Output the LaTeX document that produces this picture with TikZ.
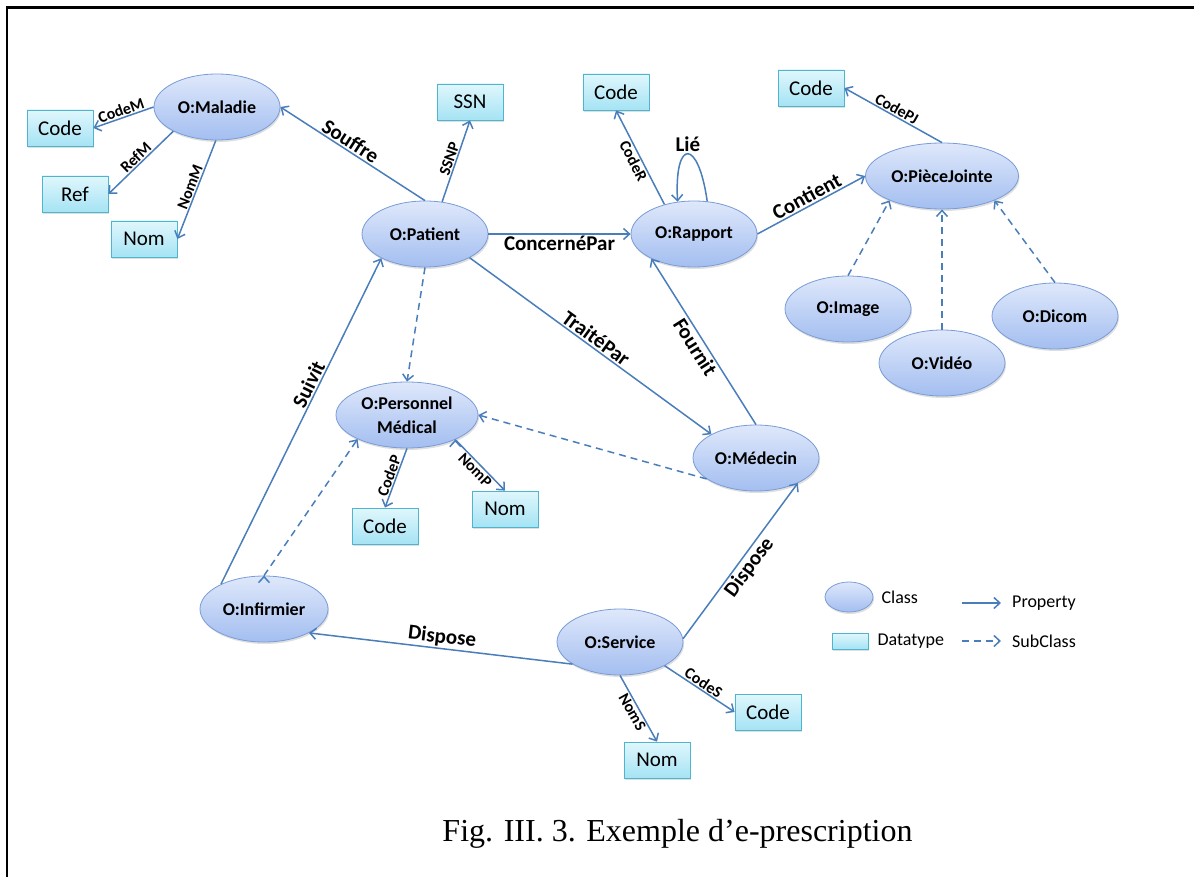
\documentclass[tikz,border=0pt]{standalone}
\usepackage{fontspec}
\setmainfont{Carlito}
\newfontfamily\timesfont{Liberation Serif}
\usetikzlibrary{arrows.meta,shadows,shapes.geometric,positioning}

\definecolor{trait}{HTML}{4A7EBB}
\definecolor{classeHaut}{HTML}{DFE8FB}
\definecolor{classeBas}{HTML}{A3BEF0}
\definecolor{classeBord}{HTML}{7A9CD6}
\definecolor{donneeHaut}{HTML}{E0F7FC}
\definecolor{donneeBas}{HTML}{A5E3F4}
\definecolor{donneeBord}{HTML}{4FB5CF}

\tikzset{
	classe/.style={ellipse, draw=classeBord, line width=0.8pt,
		top color=classeHaut, bottom color=classeBas,
		minimum width=126pt, minimum height=66pt, inner sep=0pt, align=center,
		font=\fontsize{18}{24}\selectfont\bfseries,
		drop shadow={shadow xshift=1pt, shadow yshift=-2pt, opacity=0.25}},
	donnee/.style={rectangle, draw=donneeBord, line width=0.8pt,
		top color=donneeHaut, bottom color=donneeBas,
		minimum width=66pt, minimum height=36pt, inner sep=0pt,
		font=\fontsize{21}{24}\selectfont,
		drop shadow={shadow xshift=1pt, shadow yshift=-2pt, opacity=0.25}},
	prop/.style={draw=trait, line width=1.5pt, -{Straight Barb[length=6pt,width=11pt]}},
	sousclasse/.style={prop, dash pattern=on 7pt off 5pt},
	grand/.style={font=\fontsize{21}{24}\selectfont\bfseries, sloped, inner sep=1.5pt},
	petit/.style={font=\fontsize{16}{18}\selectfont\bfseries, sloped, inner sep=1pt},
	leg/.style={font=\fontsize{18}{20}\selectfont, inner sep=2pt}
}

\begin{document}
\begin{tikzpicture}[x=1pt, y=-1pt]
\useasboundingbox (0,0) rectangle (1194,877);
\draw[line width=2.5pt] (7,877) -- (7,7.5) -- (1194,7.5);

% classes et types de donnees
\node[classe] (mal) at (217,107) {O:Maladie};
\node[donnee] (codeM) at (60,128) {Code};
\node[donnee] (ref) at (75,194) {Ref};
\node[donnee] (nomM) at (144,239) {Nom};
\node[classe] (pat) at (425,234) {O:Patient};
\node[donnee] (ssn) at (470,102) {SSN};
\node[donnee] (codeR) at (616,92) {Code};
\node[classe] (rap) at (694,234) {O:Rapport};
\node[donnee] (codePJ) at (811,88) {Code};
\node[classe, minimum width=153pt] (pj) at (942,176) {O:PièceJointe};
\node[classe] (img) at (848,309) {O:Image};
\node[classe] (vid) at (942,363) {O:Vidéo};
\node[classe] (dic) at (1055,316) {O:Dicom};
\node[classe, minimum width=142pt] (pm) at (407,415) {O:Personnel\\Médical};
\node[donnee] (codeP) at (385,526) {Code};
\node[donnee] (nomP) at (505,509) {Nom};
\node[classe] (med) at (756,458) {O:Médecin};
\node[classe, minimum width=128pt] (inf) at (264,609) {O:Infirmier};
\node[classe] (ser) at (620,642) {O:Service};
\node[donnee] (codeS) at (768,712) {Code};
\node[donnee] (nomS) at (657,760) {Nom};

% proprietes
\path[prop]
(mal.west) edge node[petit, above]{CodeM} (codeM.east)
(mal.209) edge node[petit, above]{RefM} (ref.east)
(mal.268) edge node[petit, above]{NomM} (nomM.east)
(pat.90) edge node[grand, above, pos=0.55]{Souffre} (mal.east)
(pat.62) edge node[petit, above]{SSNP} (ssn.south)
(pat.east) edge node[grand, below]{ConcernéPar} (rap.west)
(rap.135) edge node[petit, below]{CodeR} (codeR.south)
(rap.68) edge[out=98, in=93, looseness=5.5] node[grand, above, sloped=false]{Lié} (rap.117)
(rap.east) edge node[grand, above]{Contient} (pj.west)
(pj.north) edge node[petit, above]{CodePJ} (codePJ.east)
(pat.332) edge node[grand, above]{TraitéPar} (med.152)
(med.north) edge node[grand, below]{Fournit} (rap.210)
(inf.150) edge node[grand, above, pos=0.6]{Suivit} (pat.209)
(ser.205) edge node[grand, above]{Dispose} (inf.332)
(ser.3) edge node[grand, below]{Dispose} (med.329)
(ser.south) edge node[petit, below]{NomS} (nomS.north)
(ser.332) edge node[petit, above]{CodeS} (codeS.west)
(pm.south) edge node[petit, above]{CodeP} (codeP.north)
(pm.333) edge node[petit, below]{NomP} (nomP.north);

% sous-classes
\path[sousclasse]
(img.north) edge (pj.205)
(vid.north) edge (pj.south)
(dic.north) edge (pj.335)
(pat.south) edge (pm.north)
(med.203) edge (pm.east)
(inf.north) edge (pm.206);

% legende
\node[classe, minimum width=48pt, minimum height=30pt] (lclasse) at (849,597) {};
\node[leg, right=6pt of lclasse] (lclass) {Class};
\node[donnee, minimum width=36pt, minimum height=16pt] (ldonnee) at (850,641) {};
\node[leg, right=7pt of ldonnee] (ldatatype) {Datatype};
\coordinate (lp1) at (962,603);
\coordinate[right=39pt of lp1] (lp2);
\draw[prop] (lp1) -- (lp2);
\node[leg, right=9pt of lp2] (lproperty) {Property};
\coordinate (ls1) at (962,641);
\coordinate[right=39pt of ls1] (ls2);
\draw[sousclasse] (ls1) -- (ls2);
\node[leg, right=9pt of ls2] (lsubclass) {SubClass};

\node[font=\timesfont\fontsize{32}{36}\selectfont, anchor=base, inner sep=0pt] (titre) at (677.5,841) {Fig. III. 3. Exemple d’e-prescription};
\end{tikzpicture}
\end{document}
